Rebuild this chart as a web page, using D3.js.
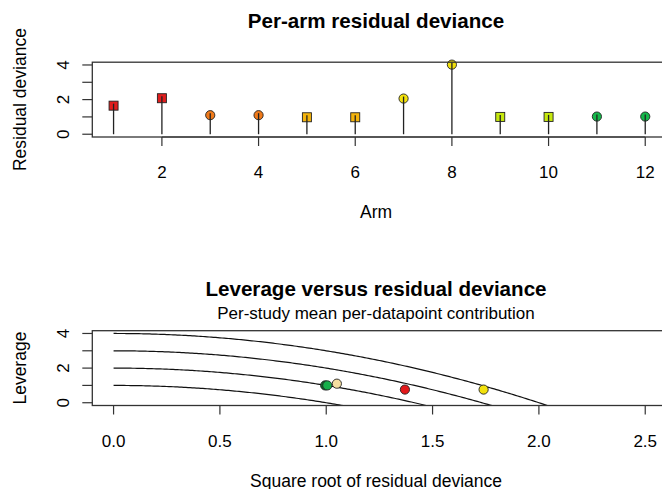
<!DOCTYPE html>
<html>
<head>
<meta charset="utf-8">
<script src="https://cdn.jsdelivr.net/npm/d3@7"></script>
<style>
  body { margin: 0; background: #fff; }
  svg text { font-family: "Liberation Sans", Arial, sans-serif; fill: #000; }
</style>
</head>
<body>
<svg id="chart" width="662" height="489"></svg>
<script>
(function () {
    // per-arm residual deviance (top panel)
    var arms = [1, 2, 3, 4, 5, 6, 7, 8, 9, 10, 11, 12];
    var armDev = [1.65, 2.08, 1.1, 1.1, 0.98, 0.98, 2.06, 4.02, 1.0, 1.0, 1.02, 1.02];
    var armShape = ["square", "square", "circle", "circle", "square", "square",
                    "circle", "circle", "square", "square", "circle", "circle"];
    var armColor = ["#e01e1e", "#e01e1e", "#f07a1a", "#f07a1a", "#f5b40c", "#f5b40c",
                    "#f2e10c", "#f2e10c", "#c6e80e", "#c6e80e", "#14b84a", "#14b84a"];

    // per-study leverage vs sqrt(residual deviance) (bottom panel)
    var studySqrtDev = [1.37, 1.05, 0.995, 1.74, 1.005];
    var studyLev = [0.76, 1.1, 1.0, 0.76, 1.0];
    var studyColor = ["#e41a1c", "#f5dea0", "#0f6b2a", "#f2e10c", "#16b04a"];

    var contours = [1, 2, 3, 4]; // leverage + dev = c
    var xTicksTop = [2, 4, 6, 8, 10, 12];
    var xTicksBottom = [0, 0.5, 1, 1.5, 2, 2.5];
    var yTicks = [0, 1, 2, 3, 4];
    var yLabels = [0, 2, 4];

    var svg = d3.select("#chart");
    var left = 92.3, right = 666.5;
    var mid = 376;

    function panel(top, bottom, xDomain, title) {
        var g = svg.append("g");
        var x = d3.scaleLinear().domain(xDomain).range([left, right]);
        var y = d3.scaleLinear().domain([-0.16, 4.16]).range([bottom, top]);
        g.append("text").attr("x", mid).attr("y", top - 34.5)
            .attr("text-anchor", "middle").attr("font-weight", "bold")
            .attr("font-size", 20.6).text(title);
        return { g: g, x: x, y: y, top: top, bottom: bottom };
    }

    function axes(p, xTicks, fmt, xLabel, yLabel) {
        var g = p.g;
        // x axis
        g.append("line").attr("x1", p.x(xTicks[0])).attr("x2", p.x(xTicks[xTicks.length - 1]))
            .attr("y1", p.bottom).attr("y2", p.bottom).attr("stroke", "#333").attr("stroke-width", 1.2);
        g.selectAll(".xt").data(xTicks).join("line")
            .attr("x1", d => p.x(d)).attr("x2", d => p.x(d))
            .attr("y1", p.bottom).attr("y2", p.bottom + 9)
            .attr("stroke", "#333").attr("stroke-width", 1.2);
        g.selectAll(".xl").data(xTicks).join("text")
            .attr("x", d => p.x(d)).attr("y", p.bottom + 41)
            .attr("text-anchor", "middle").attr("font-size", 17).text(fmt);
        g.append("text").attr("x", mid).attr("y", p.bottom + 81)
            .attr("text-anchor", "middle").attr("font-size", 17.5).text(xLabel);
        // y axis
        g.selectAll(".yt").data(yTicks).join("line")
            .attr("x1", left - 10).attr("x2", left)
            .attr("y1", d => p.y(d)).attr("y2", d => p.y(d))
            .attr("stroke", "#333").attr("stroke-width", 1.2);
        g.selectAll(".yl").data(yLabels).join("text")
            .attr("transform", d => "translate(63," + p.y(d) + ") rotate(-90)")
            .attr("dy", "0.35em").attr("text-anchor", "middle").attr("font-size", 17)
            .text(d => d);
        g.append("text")
            .attr("transform", "translate(20," + (p.top + p.bottom) / 2 + ") rotate(-90)")
            .attr("dy", "0.35em").attr("text-anchor", "middle").attr("font-size", 17.5)
            .text(yLabel);
        // box
        g.append("rect").attr("x", left).attr("y", p.top)
            .attr("width", right - left).attr("height", p.bottom - p.top)
            .attr("fill", "none").attr("stroke", "#333").attr("stroke-width", 1.3);
    }

    // ---- top panel
    var p1 = panel(62.2, 137, [0.56, 12.44], "Per-arm residual deviance");
    var pts = arms.map((a, i) => ({ a: a, v: armDev[i], s: armShape[i], c: armColor[i] }));

    p1.g.selectAll(".sq").data(pts.filter(d => d.s == "square")).join("rect")
        .attr("x", d => p1.x(d.a) - 4.5).attr("y", d => p1.y(d.v) - 4.5)
        .attr("width", 9).attr("height", 9)
        .attr("fill", d => d.c).attr("stroke", "#222").attr("stroke-width", 0.9);
    p1.g.selectAll(".ci").data(pts.filter(d => d.s == "circle")).join("circle")
        .attr("cx", d => p1.x(d.a)).attr("cy", d => p1.y(d.v)).attr("r", 4.6)
        .attr("fill", d => d.c).attr("stroke", "#222").attr("stroke-width", 0.9);
    // stems drawn over the markers
    p1.g.selectAll(".stem").data(pts).join("line")
        .attr("x1", d => p1.x(d.a)).attr("x2", d => p1.x(d.a))
        .attr("y1", p1.y(0)).attr("y2", d => p1.y(d.v) - 2)
        .attr("stroke", "#222").attr("stroke-width", 1.3);
    axes(p1, xTicksTop, d => d, "Arm", "Residual deviance");

    // ---- bottom panel
    var p2 = panel(330.7, 405.5, [-0.1, 2.6], "Leverage versus residual deviance");
    p2.g.append("text").attr("x", mid).attr("y", 318.5)
        .attr("text-anchor", "middle").attr("font-size", 17)
        .text("Per-study mean per-datapoint contribution");

    svg.append("clipPath").attr("id", "clip2").append("rect")
        .attr("x", left).attr("y", p2.top).attr("width", right - left).attr("height", p2.bottom - p2.top);

    var curve = d3.line().x(d => p2.x(d[0])).y(d => p2.y(d[1]));
    var xs = d3.range(0, 2.6, 0.01);
    p2.g.append("g").attr("clip-path", "url(#clip2)")
        .selectAll("path").data(contours).join("path")
        .attr("d", c => curve(xs.map(x => [x, c - x * x])))
        .attr("fill", "none").attr("stroke", "#111").attr("stroke-width", 1.2);

    p2.g.selectAll(".pt").data(studySqrtDev.map((v, i) => ({ x: v, y: studyLev[i], c: studyColor[i] })))
        .join("circle")
        .attr("cx", d => p2.x(d.x)).attr("cy", d => p2.y(d.y)).attr("r", 4.6)
        .attr("fill", d => d.c).attr("stroke", "#222").attr("stroke-width", 0.9);

    axes(p2, xTicksBottom, d3.format(".1f"), "Square root of residual deviance", "Leverage");
})();
</script>
</body>
</html>
